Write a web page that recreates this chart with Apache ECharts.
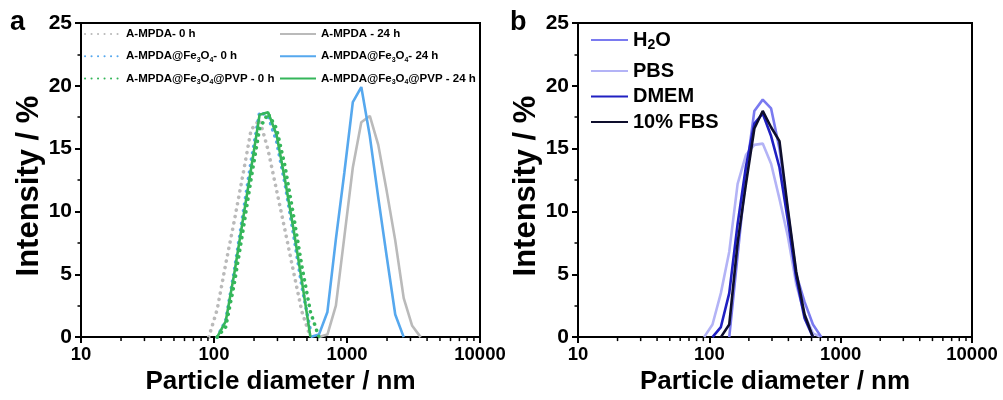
<!DOCTYPE html>
<html>
<head>
<meta charset="utf-8">
<script src="https://cdn.jsdelivr.net/npm/echarts@6/dist/echarts.min.js"></script>
<style>
html,body{margin:0;padding:0;background:#fff;}
#c{width:1003px;height:400px;}
</style>
</head>
<body>
<div id="c"></div>
<script>
// ---- Data (particle diameter bins in nm, intensity in %) ----
const binsA = [91.28, 105.7, 122.4, 141.8, 164.2, 190.1, 220.2, 255.0, 295.3, 342.0, 396.1, 458.7, 531.2, 615.1, 712.4, 825.0, 955.4, 1106, 1281, 1484, 1718, 1990, 2305, 2669, 3091, 3580];
const mpda0h      = [0, 2.2, 5.8, 9.2, 12.8, 16.5, 17.3, 14.9, 11.7, 8.5, 5.2, 2.0, 0, null, null, null, null, null, null, null, null, null, null, null, null, null];
const fe3o40h     = [null, 0, 1.3, 5.2, 9.6, 14.0, 17.9, 17.6, 15.6, 12.2, 8.2, 4.0, 0.5, null, null, null, null, null, null, null, null, null, null, null, null, null];
const pvp0h       = [null, 0, 0.8, 4.2, 8.3, 12.6, 16.6, 17.8, 16.6, 13.6, 9.7, 5.6, 2.0, 0, null, null, null, null, null, null, null, null, null, null, null, null];
const mpda24h     = [null, null, null, null, null, null, null, null, null, null, null, null, null, 0, 0.2, 2.5, 8.0, 13.5, 17.1, 17.6, 15.3, 11.6, 7.7, 3.1, 0.9, 0];
const fe3o424h    = [null, null, null, null, null, null, null, null, null, null, null, null, 0, 0.2, 2.0, 7.8, 13.1, 18.7, 19.9, 16.0, 11.1, 6.4, 1.8, 0, null, null];
const pvp24h      = [null, 0, 1.25, 5.0, 9.2, 13.4, 17.7, 17.9, 16.1, 12.5, 8.6, 4.4, 0, null, null, null, null, null, null, null, null, null, null, null, null, null];

const binsB = [91.28, 105.7, 122.4, 141.8, 164.2, 190.1, 220.2, 255.0, 295.3, 342.0, 396.1, 458.7, 531.2, 615.1, 712.4];
const h2o  = [null, null, null, 0, 6.5, 13.0, 18.0, 18.9, 18.2, 15.0, 10.0, 5.0, 2.8, 1.0, 0];
const pbs  = [0, 1.0, 3.5, 6.8, 12.2, 14.5, 15.3, 15.4, 13.8, 11.0, 8.0, 4.2, 1.8, 0.3, 0];
const dmem = [null, 0, 0.8, 3.5, 9.0, 13.6, 17.0, 17.8, 16.0, 13.5, 9.3, 4.7, 1.5, 0, null];
const fbs  = [null, null, 0, 1.0, 7.5, 12.2, 16.6, 18.0, 16.7, 15.6, 10.2, 5.2, 1.8, 0, null];

const xMinorTicks = [20,30,40,50,60,70,80,90,200,300,400,500,600,700,800,900,2000,3000,4000,5000,6000,7000,8000,9000];
const yTicks = {min: 0, max: 25, interval: 5};
const xRange = {min: 10, max: 10000};

const namesA = ['A-MPDA- 0 h', 'A-MPDA@Fe3O4- 0 h', 'A-MPDA@Fe3O4@PVP - 0 h', 'A-MPDA - 24 h', 'A-MPDA@Fe3O4- 24 h', 'A-MPDA@Fe3O4@PVP - 24 h'];
const namesB = ['H2O', 'PBS', 'DMEM', '10% FBS'];

// ---- Build ----
const FONT = 'Liberation Sans, Arial, sans-serif';
function pairs(bins, vals){ return bins.map((b,i)=>[b, vals[i]]); }

function xAxis(gi){
  return {
    type: 'log', logBase: 10, gridIndex: gi, min: xRange.min, max: xRange.max,
    name: 'Particle diameter / nm', nameLocation: 'middle', nameGap: 28,
    nameTextStyle: {fontFamily: FONT, fontWeight: 'bold', fontSize: 26, color: '#000'},
    axisLine: {show: true, onZero: false, lineStyle: {color: '#000', width: 2}},
    axisTick: {show: true, length: 6, lineStyle: {color: '#000', width: 2}},
    minorTick: {show: false},
    splitLine: {show: false}, minorSplitLine: {show: false},
    axisLabel: {fontFamily: FONT, fontWeight: 'bold', fontSize: 18.5, color: '#000', margin: 8,
      formatter: v => String(Math.round(v))}
  };
}
function yAxis(gi){
  return {
    type: 'value', gridIndex: gi, min: yTicks.min, max: yTicks.max, interval: yTicks.interval,
    name: 'Intensity / %', nameLocation: 'middle', nameGap: 31,
    nameTextStyle: {fontFamily: FONT, fontWeight: 'bold', fontSize: 31, color: '#000', padding: [0, 12, 0, 0]},
    axisLine: {show: true, lineStyle: {color: '#000', width: 2}},
    axisTick: {show: true, length: 6, lineStyle: {color: '#000', width: 2}},
    minorTick: {show: true, splitNumber: 2, length: 3.5, lineStyle: {color: '#000', width: 1.5}},
    splitLine: {show: false},
    axisLabel: {fontFamily: FONT, fontWeight: 'bold', fontSize: 21, color: '#000', margin: 9}
  };
}
function lineSeries(name, gi, bins, vals, color, dotted, width){
  return {
    name, type: 'line', xAxisIndex: gi, yAxisIndex: gi,
    data: pairs(bins, vals), symbol: 'none', connectNulls: false,
    lineStyle: dotted ? {color, width: 3.6, type: [0.1, 6.4], cap: 'round'} : {color, width: width || 2.6},
    itemStyle: {color}, clip: true, z: 3
  };
}
function minorTickSeries(gi){
  return {
    type: 'custom', xAxisIndex: gi, yAxisIndex: gi, silent: true, clip: false, z: 10,
    data: xMinorTicks.map(v => [v, 0]),
    renderItem: function(params, api){
      const p = api.coord([api.value(0), api.value(1)]);
      return {type: 'line', shape: {x1: p[0], y1: p[1], x2: p[0], y2: p[1] + 4}, style: {stroke: '#000', lineWidth: 1.5}};
    }
  };
}

const subA = n => n.replace('Fe3O4', 'Fe{s|3}O{s|4}');
const legendTextA = {
  fontFamily: FONT, fontWeight: 'bold', fontSize: 11.5, color: '#000', lineHeight: 14,
  rich: {s: {fontFamily: FONT, fontWeight: 'bold', fontSize: 7, color: '#000', verticalAlign: 'bottom', lineHeight: 14}}
};
const legendTextB = {
  fontFamily: FONT, fontWeight: 'bold', fontSize: 20, color: '#000', lineHeight: 24,
  rich: {s: {fontFamily: FONT, fontWeight: 'bold', fontSize: 14, color: '#000', verticalAlign: 'bottom', lineHeight: 24}}
};
const legendCommon = {orient: 'vertical', padding: 0, selectedMode: false,
  itemStyle: {opacity: 0, borderWidth: 0}};

const cA = {gray: '#bababa', blue: '#56a8ee', green: '#35b65a'};
const cB = ['#7a7af0', '#b3b3f6', '#2020c2', '#0e0e2c'];

const option = {
  animation: false,
  backgroundColor: '#fff',
  grid: [
    {left: 81, right: 523, top: 23, bottom: 57, show: true, borderColor: '#000', borderWidth: 2, backgroundColor: 'transparent'},
    {left: 578, right: 31, top: 23, bottom: 57, show: true, borderColor: '#000', borderWidth: 2, backgroundColor: 'transparent'}
  ],
  xAxis: [xAxis(0), xAxis(1)],
  yAxis: [yAxis(0), yAxis(1)],
  legend: [
    Object.assign({data: namesA.slice(0,3), left: 84, top: 27, itemWidth: 36, itemHeight: 14, itemGap: 8.3,
     formatter: subA, textStyle: legendTextA}, legendCommon),
    Object.assign({data: namesA.slice(3), left: 279, top: 27, itemWidth: 36, itemHeight: 14, itemGap: 8.3,
     formatter: subA, textStyle: legendTextA}, legendCommon),
    Object.assign({data: [namesB[0]], left: 590, top: 28, itemWidth: 37, itemHeight: 24, itemGap: 2,
     formatter: n => n.replace('H2O', 'H{s|2}O'), textStyle: legendTextB}, legendCommon),
    Object.assign({data: namesB.slice(1), left: 590, top: 59, itemWidth: 37, itemHeight: 24, itemGap: 1.5,
     textStyle: legendTextB}, legendCommon)
  ],
  graphic: [
    {type: 'text', left: 10, top: 9, style: {text: 'a', font: 'bold 27px ' + FONT, fill: '#000'}},
    {type: 'text', left: 510, top: 9, style: {text: 'b', font: 'bold 27px ' + FONT, fill: '#000'}}
  ],
  series: [
    lineSeries(namesA[0], 0, binsA, mpda0h, cA.gray, true),
    lineSeries(namesA[1], 0, binsA, fe3o40h, cA.blue, true),
    lineSeries(namesA[3], 0, binsA, mpda24h, cA.gray, false),
    lineSeries(namesA[4], 0, binsA, fe3o424h, cA.blue, false),
    lineSeries(namesA[5], 0, binsA, pvp24h, cA.green, false),
    lineSeries(namesA[2], 0, binsA, pvp0h, cA.green, true),
    lineSeries(namesB[1], 1, binsB, pbs, cB[1], false, 2.6),
    lineSeries(namesB[0], 1, binsB, h2o, cB[0], false, 2.6),
    lineSeries(namesB[2], 1, binsB, dmem, cB[2], false, 2.6),
    lineSeries(namesB[3], 1, binsB, fbs, cB[3], false, 2.6),
    minorTickSeries(0),
    minorTickSeries(1)
  ]
};

const chart = echarts.init(document.getElementById('c'), null, {renderer: 'canvas'});
chart.setOption(option);
</script>
</body>
</html>
